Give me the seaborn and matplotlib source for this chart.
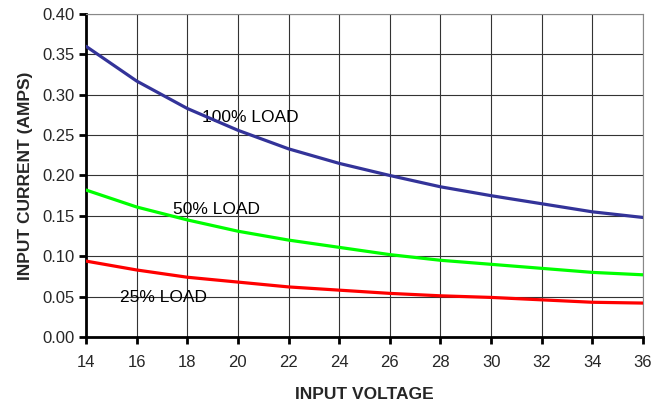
import numpy as np
import pandas as pd
import seaborn as sns
import matplotlib.pyplot as plt

voltage = [14, 16, 18, 20, 22, 24, 26, 28, 30, 32, 34, 36]
load_100 = [0.360, 0.317, 0.283, 0.256, 0.233, 0.215, 0.200, 0.186, 0.175, 0.165, 0.155, 0.148]
load_50 = [0.182, 0.161, 0.145, 0.131, 0.120, 0.111, 0.102, 0.095, 0.090, 0.085, 0.080, 0.077]
load_25 = [0.094, 0.083, 0.074, 0.068, 0.062, 0.058, 0.054, 0.051, 0.049, 0.046, 0.043, 0.042]
series_names = ["100% LOAD", "50% LOAD", "25% LOAD"]
series_colors = ["#333399", "#00ff00", "#ff0000"]
label_pos = [(18.6, 0.272), (17.45, 0.158), (15.35, 0.0495)]

df = pd.DataFrame({
    "voltage": voltage * 3,
    "current": load_100 + load_50 + load_25,
    "load": np.repeat(series_names, len(voltage)),
})

sns.set_style("white")
plt.rcParams["font.family"] = ["Liberation Sans", "DejaVu Sans"]

fig = plt.figure(figsize=(6.68, 4.03), dpi=100)
ax = fig.add_axes([0.1287, 0.1638, 0.8339, 0.8015])

sns.lineplot(data=df, x="voltage", y="current", hue="load",
             palette=dict(zip(series_names, series_colors)),
             linewidth=2.3, legend=False, ax=ax, zorder=3)

for name, (lx, ly) in zip(series_names, label_pos):
    ax.text(lx, ly, name, fontsize=12.5, va="center", ha="left", color="black", zorder=2)

ax.set_xlim(14, 36)
ax.set_ylim(0, 0.40)
ax.set_xticks(voltage)
ax.set_yticks(np.arange(0, 0.401, 0.05))
ax.set_yticklabels([f"{v:.2f}" for v in np.arange(0, 0.401, 0.05)])
ax.grid(True, color="#333333", linewidth=0.8)
ax.set_axisbelow(True)

for side in ["top", "right"]:
    ax.spines[side].set_color("#888888")
    ax.spines[side].set_linewidth(0.8)
for side in ["left", "bottom"]:
    ax.spines[side].set_color("black")
    ax.spines[side].set_linewidth(2)

ax.tick_params(axis="both", direction="out", length=5, width=2, color="black",
               labelsize=12, left=True, bottom=True)
ax.tick_params(axis="y", pad=3)
ax.tick_params(axis="x", pad=8)

ax.set_xlabel("INPUT VOLTAGE", fontsize=12.5, fontweight="bold", labelpad=12)
ax.set_ylabel("INPUT CURRENT (AMPS)", fontsize=12.5, fontweight="bold", labelpad=7)

fig.savefig("out.png", dpi=100)
